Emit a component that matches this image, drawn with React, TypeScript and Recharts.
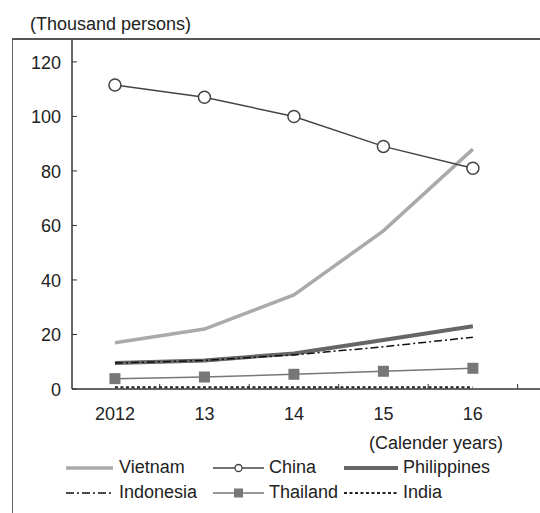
import { LineChart, Line, XAxis, YAxis, Legend } from "recharts";

const years = [2012, 2013, 2014, 2015, 2016];
const vietnam = [17, 22, 34.5, 58, 88];
const china = [111.5, 107, 100, 89, 81];
const philippines = [9.5, 10.5, 13, 18, 23];
const indonesia = [9.5, 10.5, 12.5, 15.5, 19];
const thailand = [3.8, 4.4, 5.4, 6.5, 7.6];
const india = [0.6, 0.6, 0.6, 0.6, 0.6];

const yTicks = [0, 20, 40, 60, 80, 100, 120];
const xTicks = [2012, 2012.5, 2013, 2013.5, 2014, 2014.5, 2015, 2015.5, 2016, 2016.5];

const data = years.map((year, i) => ({
  year,
  Vietnam: vietnam[i],
  China: china[i],
  Philippines: philippines[i],
  Indonesia: indonesia[i],
  Thailand: thailand[i],
  India: india[i],
}));

const FONT = "'Liberation Sans', Arial, sans-serif";
const TEXT = "#222";
const AXIS = "#333";

type Style = {
  key: string;
  stroke: string;
  width: number;
  dash?: string;
  marker?: "circle" | "square";
};

const styles: Style[] = [
  { key: "Vietnam", stroke: "#aaaaaa", width: 3.5 },
  { key: "China", stroke: "#444444", width: 1.5, marker: "circle" },
  { key: "Philippines", stroke: "#666666", width: 4 },
  { key: "Indonesia", stroke: "#111111", width: 1.5, dash: "8 3 2 3" },
  { key: "Thailand", stroke: "#777777", width: 1.5, marker: "square" },
  { key: "India", stroke: "#222222", width: 2, dash: "3 2.5" },
];

function Marker(props: any) {
  const { cx, cy, kind } = props;
  if (cx == null || cy == null) return null;
  if (kind === "circle") {
    return <circle cx={cx} cy={cy} r={6} fill="#fff" stroke="#444" strokeWidth={1.5} />;
  }
  return <rect x={cx - 5.5} y={cy - 5.5} width={11} height={11} fill="#777" />;
}

function XTick(props: any) {
  const { x, y, payload } = props;
  const v = payload.value;
  if (!Number.isInteger(v)) {
    return <line x1={x} x2={x} y1={y} y2={y - 5} stroke={AXIS} strokeWidth={1} />;
  }
  const label = v === 2012 ? "2012" : String(v).slice(2);
  return (
    <text x={x} y={y + 31} textAnchor="middle" fontSize={18} fontFamily={FONT} fill={TEXT}>
      {label}
    </text>
  );
}

function YTick(props: any) {
  const { x, y, payload } = props;
  return (
    <g>
      <line x1={x} x2={x + 5} y1={y} y2={y} stroke={AXIS} strokeWidth={1} />
      <text x={x - 11} y={y + 7} textAnchor="end" fontSize={18} fontFamily={FONT} fill={TEXT}>
        {payload.value}
      </text>
    </g>
  );
}

const legendCols = [
  { left: 66, sample: 47, gap: 6 },
  { left: 213, sample: 51, gap: 5 },
  { left: 344, sample: 54, gap: 5 },
];

function LegendContent() {
  return (
    <div style={{ position: "relative", width: 540, height: 55, fontFamily: FONT, fontSize: 18, color: TEXT }}>
      {styles.map((s, i) => {
        const col = legendCols[i % 3];
        const row = Math.floor(i / 3);
        const mid = col.sample / 2;
        return (
          <div
            key={s.key}
            style={{
              position: "absolute",
              left: col.left,
              top: row * 25,
              height: 25,
              display: "flex",
              alignItems: "center",
              whiteSpace: "nowrap",
            }}
          >
            <svg width={col.sample} height={14} style={{ marginRight: col.gap }}>
              <line
                x1={0}
                x2={col.sample}
                y1={7}
                y2={7}
                stroke={s.stroke}
                strokeWidth={s.width}
                strokeDasharray={s.dash}
              />
              {s.marker === "circle" && (
                <circle cx={mid} cy={7} r={3.5} fill="#fff" stroke="#444" strokeWidth={1.3} />
              )}
              {s.marker === "square" && <rect x={mid - 4.5} y={2.5} width={9} height={9} fill="#777" />}
            </svg>
            <span>{s.key}</span>
          </div>
        );
      })}
    </div>
  );
}

export default function App() {
  return (
    <div style={{ position: "relative", width: 540, height: 513, background: "#fff", overflow: "hidden" }}>
      <style>{"body{margin:0}"}</style>
      <LineChart
        width={540}
        height={513}
        data={data}
        margin={{ top: 39, right: 0, left: 12, bottom: 54 }}
        style={{ position: "absolute", left: 0, top: 0 }}
      >
        <XAxis
          dataKey="year"
          type="number"
          domain={[2011.52, 2016.75]}
          ticks={xTicks}
          interval={0}
          height={70}
          tickSize={0}
          tickMargin={0}
          tickLine={false}
          tick={<XTick />}
          axisLine={{ stroke: AXIS, strokeWidth: 1.5 }}
          allowDataOverflow
          label={(p: any) => {
            const vb = p.viewBox;
            return (
              <text
                x={vb.x + vb.width - 37}
                y={vb.y + 60}
                textAnchor="end"
                fontSize={18}
                fontFamily={FONT}
                fill={TEXT}
              >
                (Calender years)
              </text>
            );
          }}
        />
        <YAxis
          type="number"
          domain={[0, 128.4]}
          ticks={yTicks}
          interval={0}
          width={60}
          tickSize={0}
          tickMargin={0}
          tickLine={false}
          tick={<YTick />}
          axisLine={{ stroke: AXIS, strokeWidth: 1.5 }}
          allowDataOverflow
        />
        <Legend
          layout="horizontal"
          verticalAlign="middle"
          align="center"
          wrapperStyle={{ top: 455, left: 0, width: 540, height: 55 }}
          content={<LegendContent />}
        />
        {styles.map((s) => (
          <Line
            key={s.key}
            dataKey={s.key}
            type="linear"
            stroke={s.stroke}
            strokeWidth={s.width}
            strokeDasharray={s.dash}
            dot={s.marker ? <Marker kind={s.marker} /> : false}
            activeDot={false}
            isAnimationActive={false}
          />
        ))}
      </LineChart>
      <div
        style={{
          position: "absolute",
          left: 30,
          top: 14,
          fontFamily: FONT,
          fontSize: 18,
          color: TEXT,
          whiteSpace: "nowrap",
        }}
      >
        (Thousand persons)
      </div>
      <div
        style={{
          position: "absolute",
          left: 12,
          top: 38,
          width: 540,
          height: 480,
          borderLeft: "1.5px solid #666",
          borderTop: "2px solid #555",
          pointerEvents: "none",
        }}
      />
    </div>
  );
}
